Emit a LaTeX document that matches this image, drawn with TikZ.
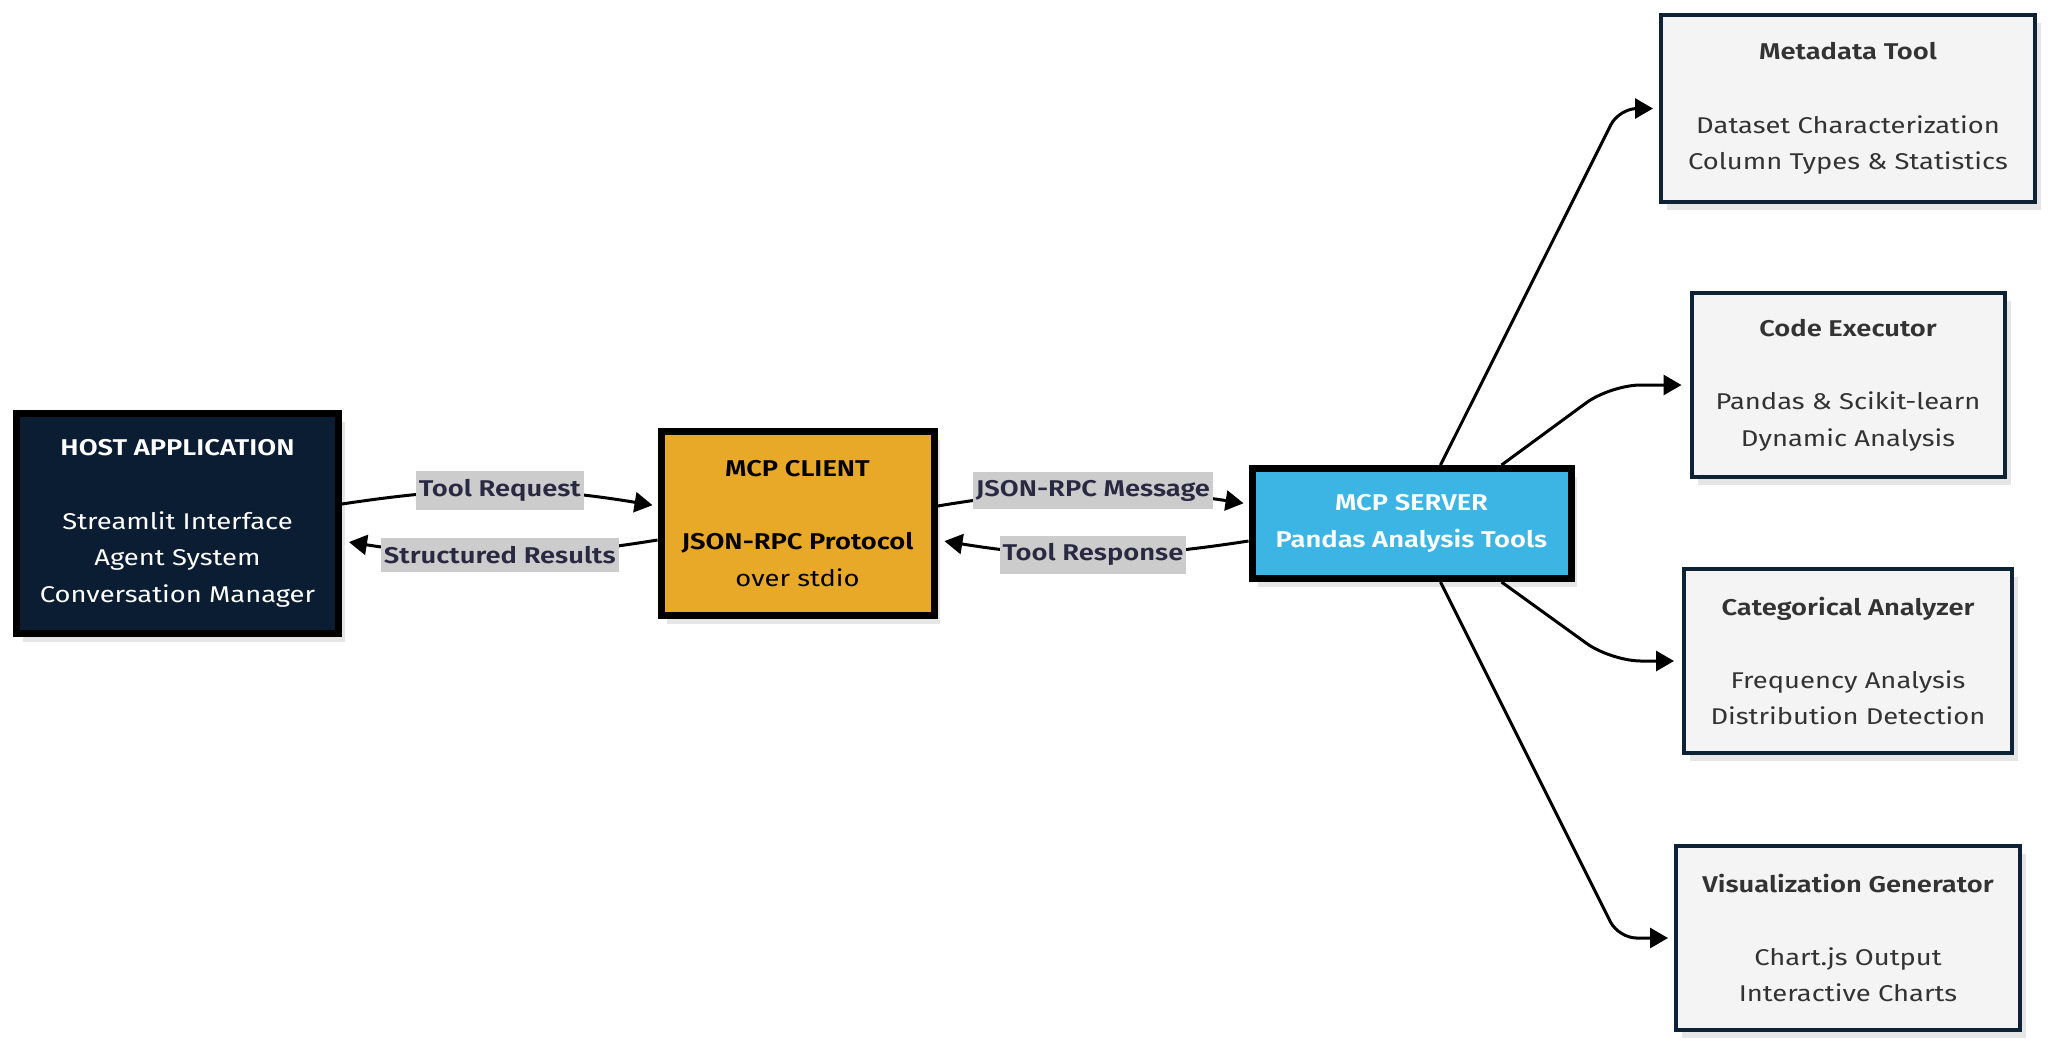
\documentclass[tikz,border=0pt]{standalone}
\usepackage{fontspec}
\setmainfont[FakeStretch=1.2, BoldFont={Fira Sans SemiBold}]{Fira Sans}
\usepackage{tikz}
\usetikzlibrary{positioning,arrows.meta,shadows}

\definecolor{hostfill}{HTML}{0B1D32}
\definecolor{clientfill}{HTML}{E9A928}
\definecolor{serverfill}{HTML}{3DB5E4}
\definecolor{toolfill}{HTML}{F4F4F4}
\definecolor{toolline}{HTML}{0E2236}
\definecolor{tooltext}{HTML}{333333}
\definecolor{lblfill}{HTML}{CCCCCC}
\definecolor{lbltext}{HTML}{2B2942}
\definecolor{shade}{HTML}{E6E6E6}

\begin{document}
\begin{tikzpicture}[
    x=0.5pt, y=-0.5pt,
    every node/.style={font=\fontsize{11.4}{18.3}\selectfont},
    box/.style={
        rectangle,
        draw,
        align=center,
        inner sep=0pt,
        drop shadow={shadow xshift=3pt, shadow yshift=-4pt, fill=shade, opacity=1}
    },
    mainbox/.style={box, draw=black, line width=3.5pt},
    toolbox/.style={
        box,
        draw=toolline,
        line width=2pt,
        fill=toolfill,
        text=tooltext,
        minimum height=92pt
    },
    lbl/.style={fill=lblfill, text=lbltext, font=\fontsize{11.4}{13}\selectfont\bfseries,
        inner xsep=1.5pt, inner ysep=4pt},
    arrow/.style={-{Triangle[length=9pt,width=10pt]}, line width=1.5pt}
]
\useasboundingbox (0,0) rectangle (2048,1046);

% Nodes
\node (host) [mainbox, fill=hostfill, text=white, minimum width=161pt, minimum height=110pt] at (177.5,523.5)
{\textbf{HOST APPLICATION}\\[18.3pt]Streamlit Interface\\Agent System\\Conversation Manager};

\node (client) [mainbox, fill=clientfill, text=black, minimum width=136.5pt, minimum height=92pt,
    right of=host, node distance=310pt]
{\textbf{MCP CLIENT}\\[18.3pt]\textbf{JSON-RPC Protocol}\\over stdio};

\node (server) [mainbox, fill=serverfill, text=white, minimum width=159.5pt, minimum height=55pt,
    right of=client, node distance=307pt]
{\textbf{MCP SERVER}\\\textbf{Pandas Analysis Tools}};

\node (meta) [toolbox, minimum width=187pt, minimum height=93.5pt] at (1848,108.5)
{\textbf{Metadata Tool}\\[18.3pt]Dataset Characterization\\Column Types \& Statistics};

\node (code) [toolbox, minimum width=156.5pt, below of=meta, node distance=138.25pt]
{\textbf{Code Executor}\\[18.3pt]Pandas \& Scikit-learn\\Dynamic Analysis};

\node (cat) [toolbox, minimum width=164pt, below of=code, node distance=138pt]
{\textbf{Categorical Analyzer}\\[18.3pt]Frequency Analysis\\Distribution Detection};

\node (vis) [toolbox, minimum width=172pt, below of=cat, node distance=138.5pt]
{\textbf{Visualization Generator}\\[18.3pt]Chart.js Output\\Interactive Charts};

% Arrows
\draw [arrow, shorten >=2.5pt] ([shift={(0,-19.5)}]host.east) to[bend left=9]
    node[lbl] {Tool Request} ([shift={(0,-17.5)}]client.west);
\draw [arrow, shorten >=3.5pt] ([shift={(0,16.5)}]client.west) to[bend left=9]
    node[lbl] {Structured Results} ([shift={(0,17.5)}]host.east);
\draw [arrow, shorten >=2.5pt] ([shift={(0,-17.5)}]client.east) to[bend left=9]
    node[lbl] {JSON-RPC Message} ([shift={(0,-19.5)}]server.west);
\draw [arrow, shorten >=3.5pt] ([shift={(0,17.5)}]server.west) to[bend left=9]
    node[lbl] {Tool Response} ([shift={(0,16.5)}]client.east);

\draw [arrow, rounded corners=9pt, shorten >=3pt] ([shift={(29,0)}]server.north)
    -- ([shift={(-40,0)}]meta.west) -- (meta.west);
\draw [arrow, rounded corners=15pt, shorten >=4pt] ([shift={(90,0)}]server.north)
    -- ([shift={(-79,0)}]code.west) -- (code.west);
\draw [arrow, rounded corners=15pt, shorten >=4pt] ([shift={(90,0)}]server.south)
    -- ([shift={(-71,0)}]cat.west) -- (cat.west);
\draw [arrow, rounded corners=9pt, shorten >=3pt] ([shift={(29,0)}]server.south)
    -- ([shift={(-55.5,0)}]vis.west) -- (vis.west);

\end{tikzpicture}
\end{document}
